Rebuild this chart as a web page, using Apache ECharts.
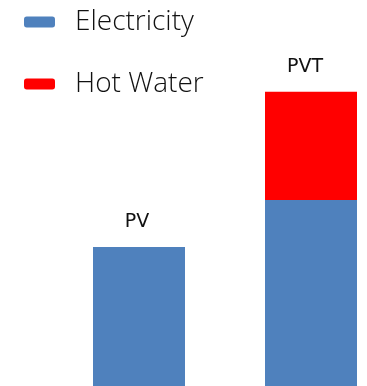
<!DOCTYPE html>
<html>
<head>
<meta charset="utf-8">
<script src="https://cdn.jsdelivr.net/npm/echarts@6/dist/echarts.min.js"></script>
<style>
  html, body { margin: 0; padding: 0; background: #ffffff; }
  #chart { width: 367px; height: 386px; }
</style>
</head>
<body>
<div id="chart"></div>
<script>
// Energy output per collector type
const categories = ['PV', 'PVT'];
const electricity = [36, 48.2];
const hotWater = [0, 28];
const labelShift = [-2, -6];

const chart = echarts.init(document.getElementById('chart'));

function topLabel(i) {
  return {
    show: true,
    position: 'top',
    distance: 15,
    offset: [labelShift[i], 0],
    color: '#111111',
    fontFamily: 'DejaVu Sans',
    fontSize: 19,
    formatter: p => p.name
  };
}

chart.setOption({
  animation: false,
  backgroundColor: '#ffffff',
  legend: {
    orient: 'vertical',
    left: 24,
    top: 3,
    padding: 0,
    itemWidth: 31,
    itemHeight: 11,
    itemGap: 24,
    icon: 'roundRect',
    textStyle: {
      color: '#111111',
      fontFamily: 'Open Sans',
      fontWeight: 300,
      fontSize: 28,
      lineHeight: 32,
      padding: [0, 0, 6, 15]
    },
    data: ['Electricity', 'Hot Water']
  },
  grid: { left: 53, width: 344, top: 0, bottom: 0, outerBoundsMode: 'none', containLabel: false },
  xAxis: {
    type: 'category',
    data: categories,
    axisLine: { show: false },
    axisTick: { show: false },
    axisLabel: { show: false }
  },
  yAxis: {
    type: 'value',
    min: 0,
    max: 100,
    show: false,
    splitLine: { show: false }
  },
  series: [
    {
      name: 'Electricity',
      type: 'bar',
      stack: 'total',
      barWidth: 92,
      itemStyle: { color: '#4F81BD' },
      data: electricity.map((v, i) => ({
        value: v,
        label: hotWater[i] ? { show: false } : topLabel(i)
      }))
    },
    {
      name: 'Hot Water',
      type: 'bar',
      stack: 'total',
      barWidth: 92,
      itemStyle: { color: '#FF0000' },
      data: hotWater.map((v, i) => ({
        value: v,
        label: v ? topLabel(i) : { show: false }
      }))
    }
  ]
});
</script>
</body>
</html>
